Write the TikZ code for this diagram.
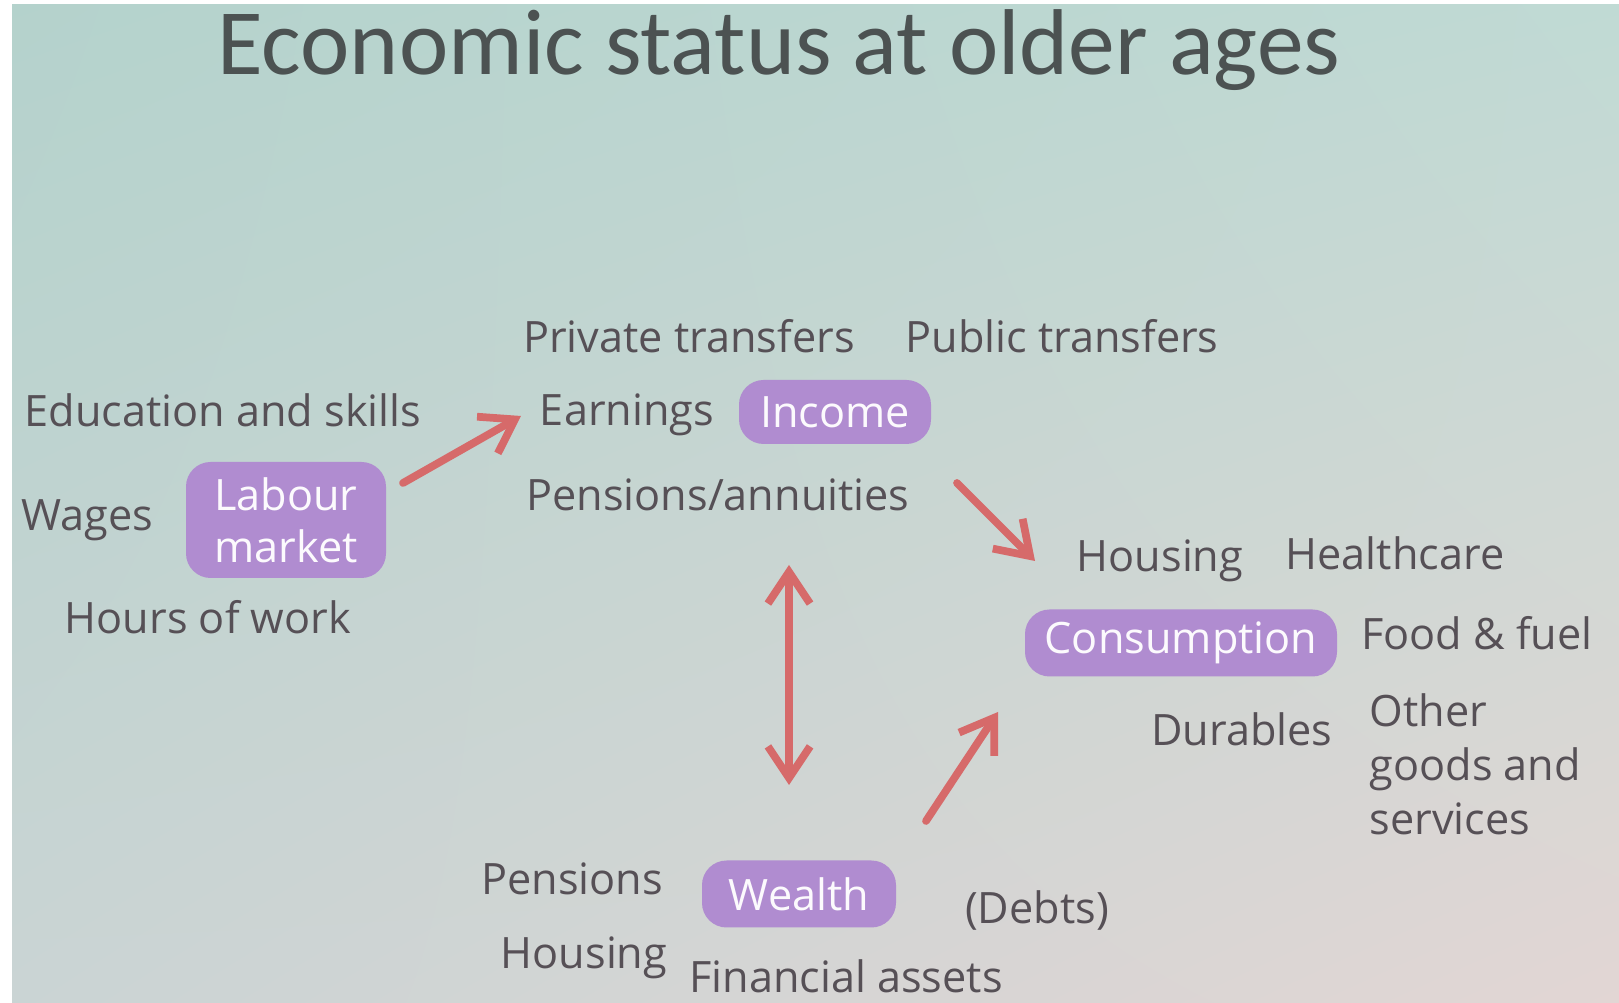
\documentclass[tikz,border=0pt]{standalone}
\usepackage{fontspec}
\setmainfont{Open Sans}
\newfontfamily\titlefont{Carlito}
\usetikzlibrary{arrows.meta, shadings}

\definecolor{boxpurple}{RGB}{176,140,208}
\definecolor{arrowred}{RGB}{214,106,106}
\definecolor{txtgrey}{RGB}{86,80,86}
\definecolor{titlegrey}{RGB}{76,82,82}
\definecolor{bgul}{RGB}{180,210,204}
\definecolor{bgur}{RGB}{192,218,212}
\definecolor{bgll}{RGB}{202,212,212}
\definecolor{bglr}{RGB}{226,214,212}

\begin{document}
\begin{tikzpicture}[y=-1cm,
    lbl/.style={text=txtgrey, anchor=base, inner sep=0pt, font=\fontsize{12.3pt}{15.4pt}\selectfont},
    box/.style={fill=boxpurple, rounded corners=7pt, text=white!96!boxpurple, align=center,
        inner sep=0pt, font=\fontsize{12.3pt}{14.7pt}\selectfont},
    flow/.style={draw=arrowred, line width=2.2pt, line cap=round,
        -{Straight Barb[length=9pt,width=12pt]}},
    flowboth/.style={flow, {Straight Barb[length=9pt,width=12pt]}-{Straight Barb[length=9pt,width=12pt]}}]

    % slide background
    \useasboundingbox (0,0) rectangle (16.19,10.03);
    \shade[upper left=bgul, upper right=bgur, lower left=bgll, lower right=bglr] (0,0) rectangle (16.19,10.03);
    \fill[white] (0,0) rectangle (0.12,10.03);
    \fill[white] (0,0) rectangle (16.19,0.04);

    \node[anchor=base, inner sep=0pt, text=titlegrey, font=\titlefont\fontsize{26.6pt}{30pt}\selectfont]
        (title) at (7.79,0.75) {Economic status at older ages};

    % boxes
    \node[box, minimum width=2.00cm, minimum height=1.16cm] (labour) at (2.86,5.20) {Labour\\market};
    \node[box, minimum width=1.92cm, minimum height=0.64cm] (income) at (8.35,4.12) {Income};
    \node[box, minimum width=3.12cm, minimum height=0.67cm] (cons) at (11.81,6.43) {Consumption};
    \node[box, minimum width=1.94cm, minimum height=0.67cm] (wealth) at (7.99,8.94) {Wealth};

    % labour market
    \node[lbl] (edu) at (2.23,4.27) {Education and skills};
    \node[lbl] (wages) at (0.87,5.31) {Wages};
    \node[lbl] (hours) at (2.08,6.34) {Hours of work};

    % income
    \node[lbl] (privtr) at (6.89,3.53) {Private transfers};
    \node[lbl] (pubtr) at (10.62,3.53) {Public transfers};
    \node[lbl] (earn) at (6.27,4.26) {Earnings};
    \node[lbl] (pensann) at (7.18,5.11) {Pensions/annuities};

    % consumption
    \node[lbl] (chousing) at (11.60,5.72) {Housing};
    \node[lbl] (health) at (13.95,5.70) {Healthcare};
    \node[lbl] (food) at (14.77,6.50) {Food \& fuel};
    \node[lbl] (durab) at (12.42,7.46) {Durables};
    \node[lbl, anchor=base west, align=left] (other) at (13.69,8.35) {Other\\goods and\\services};

    % wealth
    \node[lbl] (wpens) at (5.72,8.95) {Pensions};
    \node[lbl] (whousing) at (5.84,9.69) {Housing};
    \node[lbl] (finass) at (8.46,9.93) {Financial assets};
    \node[lbl] (debts) at (10.37,9.24) {(Debts)};

    % arrow ends
    \coordinate (lm1) at (4.03,4.83);
    \coordinate (lm2) at (5.21,4.16);
    \coordinate (ic1) at (9.57,4.83);
    \coordinate (ic2) at (10.35,5.61);
    \coordinate (iw1) at (7.89,5.65);
    \coordinate (iw2) at (7.89,7.85);
    \coordinate (wc1) at (9.26,8.21);
    \coordinate (wc2) at (9.98,7.12);

    \draw[flow] (lm1) -- (lm2);
    \draw[flow] (ic1) -- (ic2);
    \draw[flowboth] (iw1) -- (iw2);
    \draw[flow] (wc1) -- (wc2);
\end{tikzpicture}
\end{document}
